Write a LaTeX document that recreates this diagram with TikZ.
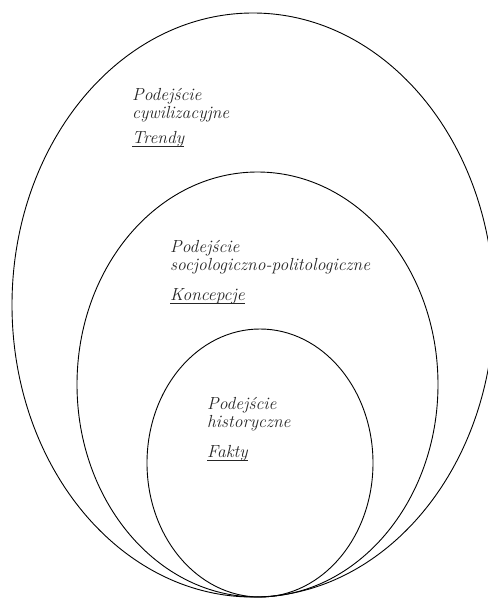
\documentclass[tikz,border=0pt]{standalone}
\usepackage{fontspec}
\begin{document}
\begin{tikzpicture}[x=1pt,y=-1pt,
  lbl/.style={anchor=base west, inner sep=0pt, font=\fontsize{17.5}{18}\selectfont\itshape, text=black!85},
  ring/.style={draw=black, line width=0.9pt},
  uline/.style={draw=black!85, line width=0.8pt}]
\useasboundingbox (0,0) rectangle (488,598);
\begin{scope}
\clip (0,0) rectangle (488,598);
\draw[ring] (253,305) ellipse [x radius=241pt, y radius=292pt];
\draw[ring] (257.5,384.5) ellipse [x radius=180.5pt, y radius=212.5pt];
\draw[ring] (260,463) ellipse [x radius=113pt, y radius=134pt];
\end{scope}
% outer
\node[lbl] (o1) at (132,100) {Podejście};
\node[lbl] (o2) at (132,118) {cywilizacyjne};
\node[lbl] (o3) at (132,143) {Trendy};
\draw[uline] ([yshift=-3pt]o3.base west) -- ([yshift=-3pt]o3.base east);
% middle
\node[lbl] (m1) at (170,252) {Podejście};
\node[lbl] (m2) at (170,270) {socjologiczno-politologiczne};
\node[lbl] (m3) at (170,300) {Koncepcje};
\draw[uline] ([yshift=-3pt]m3.base west) -- ([yshift=-3pt]m3.base east);
% inner
\node[lbl] (i1) at (207,409) {Podejście};
\node[lbl] (i2) at (207,427) {historyczne};
\node[lbl] (i3) at (207,457) {Fakty};
\draw[uline] ([yshift=-3pt]i3.base west) -- ([yshift=-3pt]i3.base east);
\end{tikzpicture}
\end{document}
